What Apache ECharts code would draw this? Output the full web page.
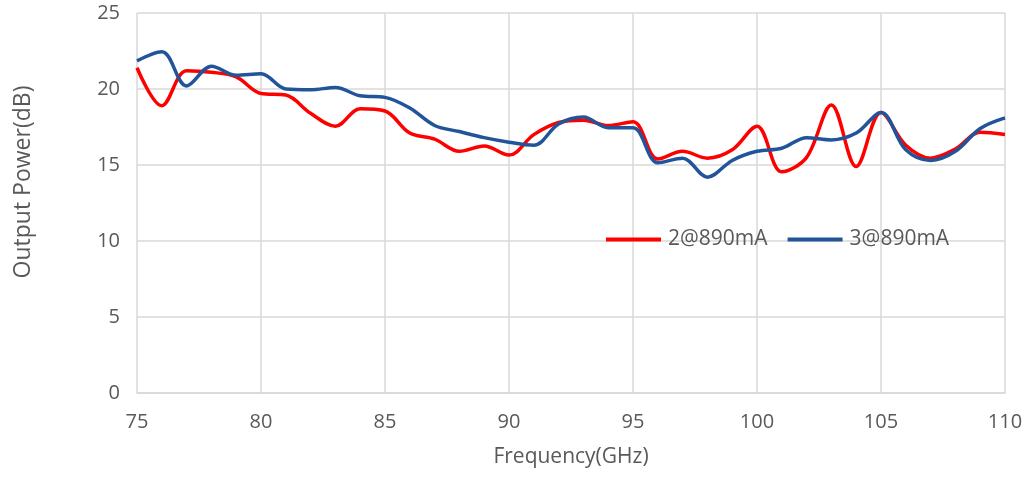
<!DOCTYPE html>
<html>
<head>
<meta charset="utf-8">
<script src="https://cdn.jsdelivr.net/npm/echarts@6/dist/echarts.min.js"></script>
<style>html,body{margin:0;padding:0;background:#fff}#c{width:1031px;height:477px}</style>
</head>
<body>
<div id="c"></div>
<script>
const freqs = [75,76,77,78,79,80,81,82,83,84,85,86,87,88,89,90,91,92,93,94,95,96,97,98,99,100,101,102,103,104,105,106,107,108,109,110];
const series2 = [21.4,18.9,21.2,21.1,20.8,19.7,19.6,18.4,17.55,18.7,18.55,17.1,16.7,15.9,16.25,15.65,17.0,17.8,17.95,17.6,17.85,15.4,15.9,15.45,16.0,17.55,14.55,15.5,18.95,14.9,18.45,16.3,15.45,16.05,17.15,17.0];
const series3 = [21.85,22.45,20.2,21.5,20.9,21.0,20.0,19.95,20.1,19.55,19.45,18.75,17.6,17.2,16.8,16.5,16.3,17.7,18.15,17.45,17.45,15.15,15.45,14.2,15.3,15.9,16.1,16.8,16.65,17.1,18.45,16.0,15.3,15.9,17.4,18.1];
const seriesNames = ['2@890mA','3@890mA'];
const yTicks = [0,5,10,15,20,25];

const font = '"Open Sans", sans-serif';
const chart = echarts.init(document.getElementById('c'), null, {renderer:'canvas'});
const pairs = (ys) => freqs.map((f,i)=>[f, ys[i]]);
chart.setOption({
  animation:false,
  grid:{left:137,right:26,top:13,bottom:84,containLabel:false,outerBoundsMode:'none'},
  legend:{
    left:606, top:229, padding:0, itemWidth:55, itemHeight:4, itemGap:20,
    icon:'rect',
    textStyle:{fontFamily:font,fontSize:21,color:'#595959',padding:[0,0,0,2]},
    data:seriesNames
  },
  xAxis:{
    type:'value',min:75,max:110,interval:5,
    name:'Frequency(GHz)',nameLocation:'middle',nameGap:54,
    nameTextStyle:{fontFamily:font,fontSize:21,color:'#595959'},
    axisLine:{show:true,lineStyle:{color:'#d9d9d9',width:1.5}},
    axisTick:{show:false},
    axisLabel:{fontFamily:font,fontSize:20,color:'#595959',margin:19},
    splitLine:{show:true,lineStyle:{color:'#d9d9d9',width:1.5}}
  },
  yAxis:{
    type:'value',min:yTicks[0],max:yTicks[yTicks.length-1],interval:5,
    name:'Output Power(dB)',nameLocation:'middle',nameGap:102,
    nameTextStyle:{fontFamily:font,fontSize:23,color:'#595959',padding:[0,0,0,42]},
    axisLine:{show:false},axisTick:{show:false},
    axisLabel:{fontFamily:font,fontSize:20,color:'#595959',margin:17},
    splitLine:{show:true,lineStyle:{color:'#d9d9d9',width:1.5}}
  },
  series:[
    {name:seriesNames[0],type:'line',data:pairs(series2),smooth:0.35,showSymbol:false,symbol:'none',
     lineStyle:{color:'#ff0000',width:3.5},itemStyle:{color:'#ff0000'}},
    {name:seriesNames[1],type:'line',data:pairs(series3),smooth:0.35,showSymbol:false,symbol:'none',
     lineStyle:{color:'#22549a',width:3.5},itemStyle:{color:'#22549a'}}
  ]
});
</script>
</body>
</html>
